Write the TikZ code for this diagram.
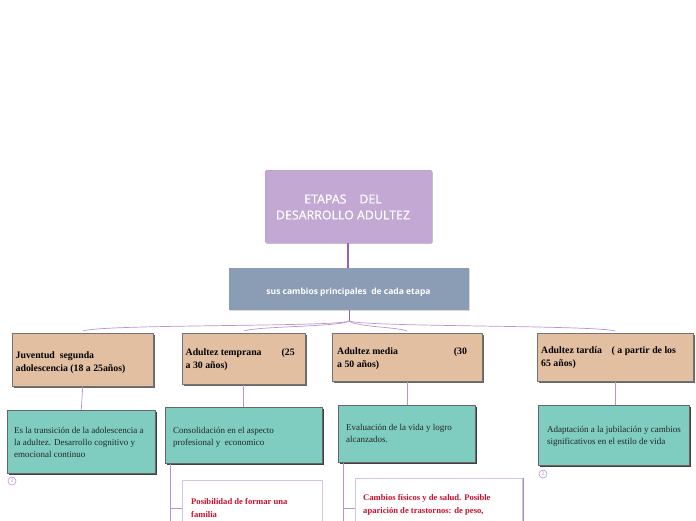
\documentclass[tikz,border=0pt]{standalone}
\usepackage{fontspec}
\setmainfont{Liberation Serif}
\newfontfamily\osans{Open Sans}
\newfontfamily\osansmed{Open Sans}[FakeBold=0.7]
\usetikzlibrary{shadows}
\definecolor{lila}{HTML}{C3A8D4}
\definecolor{grayblue}{HTML}{8B9DB5}
\definecolor{mytan}{HTML}{E2BFA0}
\definecolor{myteal}{HTML}{7ECDC0}
\definecolor{linep}{HTML}{B795D2}
\definecolor{darkp}{HTML}{9660BE}
\definecolor{redtxt}{HTML}{C8102E}
\definecolor{boxline}{HTML}{D5C3E3}
\begin{document}
\begin{tikzpicture}[x=1pt,y=-1pt,
  titlebox/.style={fill=lila, draw=lila!90!black, line width=0.3pt, rounded corners=1.5pt, anchor=north west, inner sep=0, minimum width=167pt, minimum height=73pt, drop shadow={shadow xshift=0.8pt, shadow yshift=-0.8pt, fill=black!25, opacity=0.6}},
  subbox/.style={fill=grayblue, anchor=north west, inner sep=0, minimum width=240pt, minimum height=42pt, drop shadow={shadow xshift=0.8pt, shadow yshift=-0.8pt, fill=black!25, opacity=0.6}},
  stagebox/.style={fill=mytan, draw=black!55, line width=0.5pt, anchor=north west, inner sep=0, drop shadow={shadow xshift=1.6pt, shadow yshift=-1.6pt, fill=black!60, opacity=1}},
  greenbox/.style={fill=myteal, draw=black!60, line width=0.5pt, anchor=north west, inner sep=0, drop shadow={shadow xshift=2pt, shadow yshift=-2pt, fill=black!75, opacity=1}},
  whitebox/.style={fill=white, draw=boxline, line width=0.8pt, anchor=north west, inner sep=0},
  stagetxt/.style={anchor=north west, inner sep=0, align=left, font=\bfseries\fontsize{9.8}{13}\selectfont},
  greentxt/.style={anchor=north west, inner sep=0, align=left, font=\fontsize{9}{12}\selectfont, text=black!85},
  redt/.style={anchor=north west, inner sep=0, align=left, font=\bfseries\fontsize{8.6}{13}\selectfont, text=redtxt},
  conn/.style={draw=linep, line width=0.7pt},
  mainconn/.style={draw=darkp, line width=1.1pt},
  numc/.style={circle, draw=linep, line width=0.6pt, inner sep=0, minimum size=8pt, text=linep, font=\fontsize{5}{5}\selectfont\osans}
]
\useasboundingbox (0,0) rectangle (696,520);
\clip (0,0) rectangle (696,520);

% title and subtitle
\node[titlebox] (title) at (265,170) {};
\node[align=center, text=white, font=\osansmed\fontsize{12.4}{16}\selectfont] (titletxt) at (343,207) {ETAPAS\ \ \ \ DEL\\DESARROLLO ADULTEZ};
\node[subbox] (sub) at (229,268) {};
\node[text=white, font=\osans\bfseries\fontsize{8.5}{10}\selectfont, inner sep=0] (subtxt) at (348.5,292.5) {sus cambios principales\ \ de cada etapa};

\draw[mainconn] (title.south -| 348,0) coordinate (tb) -- (tb |- sub.north);

% stage boxes
\node[stagebox, minimum width=141pt, minimum height=53pt] (s1) at (12,333) {};
\node[stagebox, minimum width=123pt, minimum height=51pt] (s2) at (182,333) {};
\node[stagebox, minimum width=150pt, minimum height=48pt] (s3) at (332,333) {};
\node[stagebox, minimum width=156pt, minimum height=48pt] (s4) at (537,333) {};

\node[stagetxt] (t1) at (15.5,351) {Juventud\ \ segunda\\adolescencia (18 a 25años)};
\node[stagetxt] (t2) at (185.5,348) {Adultez temprana\hspace{20pt}(25\\a 30 años)};
\node[stagetxt] (t3) at (337,347) {Adultez media\hspace{56pt}(30\\a 50 años)};
\node[stagetxt] (t4) at (541,346) {Adultez tardía\ \ \ \ ( a partir de los\\65 años)};

% connectors from subtitle to stages
\coordinate (split) at (349,321);
\draw[conn, draw=darkp, line width=0.9pt] (sub.south -| split) -- (split);
\draw[conn] (split) .. controls +(-10,6) and +(20,-7) .. ([yshift=2pt]s1.north);
\draw[conn] (split) .. controls +(-10,6) and +(15,-5) .. ([yshift=2pt]s2.north);
\draw[conn] (split) .. controls +(8,6) and +(-10,-4) .. ([yshift=2pt]s3.north);
\draw[conn] (split) .. controls +(15,6) and +(-20,-6) .. ([yshift=2pt]s4.north);

% green boxes
\node[greenbox, minimum width=148pt, minimum height=63pt] (g1) at (7,410) {};
\node[greenbox, minimum width=157pt, minimum height=56pt] (g2) at (165,407) {};
\node[greenbox, minimum width=137pt, minimum height=57pt] (g3) at (338,405) {};
\node[greenbox, minimum width=151pt, minimum height=60pt] (g4) at (538,405) {};

\node[greentxt] (gt1) at (14,427) {Es la transición de la adolescencia a\\la adultez. Desarrollo cognitivo y\\emocional continuo};
\node[greentxt] (gt2) at (173,427) {Consolidación en el aspecto\\profesional y\ \ economico};
\node[greentxt] (gt3) at (346,424) {Evaluación de la vida y logro\\alcanzados.};
\node[greentxt] (gt4) at (547,426) {Adaptación a la jubilación y cambios\\significativos en el estilo de vida};

\draw[conn] (s1.south) -- (g1.north);
\draw[conn] (s2.south) -- (s2.south |- g2.north);
\draw[conn] (s3.south) -- (s3.south |- g3.north);
\draw[conn] (s4.south) -- (s4.south |- g4.north);

\node[numc] (n1) at (12,481) {3};
\node[numc] (n4) at (543,474) {2};

% white boxes (children)
\node[whitebox, minimum width=140pt, minimum height=70pt] (w2) at (182,480) {};
\node[whitebox, minimum width=167pt, minimum height=70pt, drop shadow={shadow xshift=1.6pt, shadow yshift=0pt, fill=lila!85!black, opacity=1}] (w3) at (355,478) {};
\node[redt] (rt2) at (191,498.5) {Posibilidad de formar una\\familia};
\node[redt] (rt3) at (363,494.5) {Cambios físicos y de salud. Posible\\aparición de trastornos: de peso,};

\coordinate (b2) at ([xshift=5pt]g2.south west);
\coordinate (b3) at ([xshift=5pt]g3.south west);
\draw[conn, line width=1pt] (b2) -- ++(0,70);
\draw[conn, line width=1pt] (b3) -- ++(0,70);
\draw[conn] (b2 |- 0,508) -- (w2.west |- 0,508);
\draw[conn] (b3 |- 0,508) -- (w3.west |- 0,508);
\end{tikzpicture}
\end{document}
